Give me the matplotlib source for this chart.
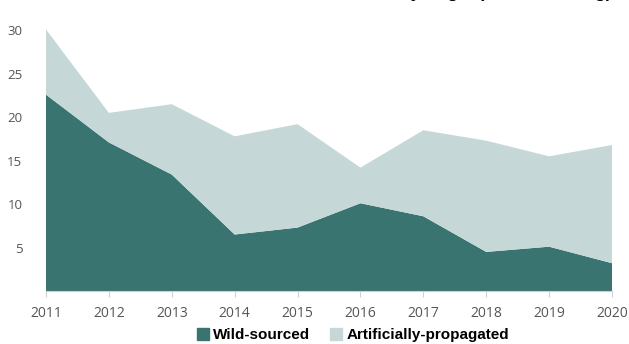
import matplotlib
matplotlib.use("Agg")
import matplotlib.pyplot as plt
from matplotlib.patches import Patch

years = [2011, 2012, 2013, 2014, 2015, 2016, 2017, 2018, 2019, 2020]
wild_sourced = [22.6, 17.1, 13.4, 6.5, 7.3, 10.1, 8.6, 4.5, 5.1, 3.2]
total = [30.1, 20.5, 21.5, 17.8, 19.2, 14.2, 18.5, 17.3, 15.5, 16.8]
artificially_propagated = [t - w for t, w in zip(total, wild_sourced)]
y_ticks = [5, 10, 15, 20, 25, 30]

dark = "#3a7471"
light = "#c5d7d7"

fig = plt.figure(figsize=(6.29, 3.44), dpi=100)
ax = fig.add_axes([46 / 629, 1 - 291 / 344, (612 - 46) / 629, (291 - 26) / 344])

ax.stackplot(years, wild_sourced, artificially_propagated,
             colors=[dark, light], linewidth=0)

ax.set_xlim(years[0], years[-1])
ax.set_ylim(0, 30.5)
ax.set_xticks(years)
ax.set_yticks(y_ticks)

for s in ["top", "right", "left"]:
    ax.spines[s].set_visible(False)
ax.spines["bottom"].set_color("#d0d0d0")
ax.tick_params(axis="y", length=0, pad=17, labelcolor="#555555", labelsize=9.5)
ax.tick_params(axis="x", length=4, color="#d0d0d0", pad=7,
               labelcolor="#555555", labelsize=10)
for lab in ax.get_xticklabels() + ax.get_yticklabels():
    lab.set_fontfamily("Open Sans")

fig.text(612 / 629, 1 + 2 / 344, "Trade volume by origin (net mass in kg)",
         ha="right", va="baseline", fontsize=12.5, fontweight="bold",
         family="Liberation Sans")

handles = [Patch(color=dark, label="Wild-sourced"),
           Patch(color=light, label="Artificially-propagated")]
leg = fig.legend(handles=handles, loc="center", bbox_to_anchor=(353 / 629, 1 - 335 / 344),
                 ncol=2, frameon=False, handlelength=0.8, handleheight=0.8,
                 handletextpad=0.25, columnspacing=1.3, borderpad=0,
                 prop={"family": "Liberation Sans", "weight": "bold", "size": 11})

fig.savefig("out.png", dpi=100)
